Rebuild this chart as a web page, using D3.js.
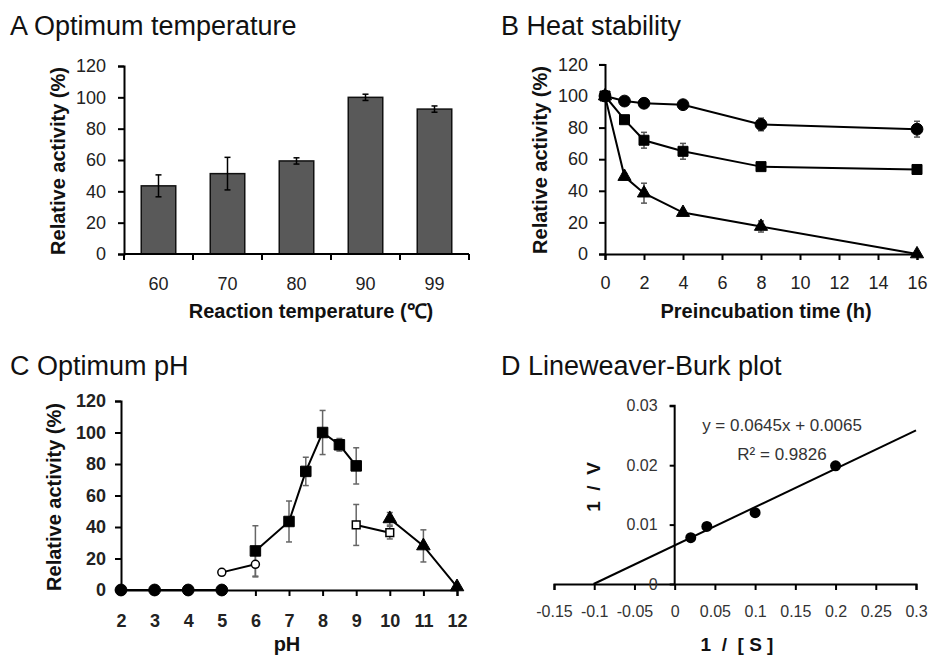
<!DOCTYPE html>
<html><head><meta charset="utf-8">
<script src="https://cdn.jsdelivr.net/npm/d3@7"></script>
<style>
body{margin:0;background:#fff;}
svg{display:block;font-family:"Liberation Sans",Arial,sans-serif;}
</style></head><body>
<svg id="c" width="928" height="657"></svg>
<script>
// ---- Data ----
// Panel A
const tempCats = ["60","70","80","90","99"];
const tempVals = [43.5, 51.3, 59.4, 100, 92.5];
const tempErr  = [7, 10.4, 2, 2, 2];
// Panel B
const timeX = [0,1,2,4,8,16];
const heatCircle = [100, 96.8, 95.4, 94.5, 82, 79];
const heatCircleErr = [3, 2, 2, 2.5, 4, 5];
const heatSquare = [100, 85, 72, 65, 55.3, 53.5];
const heatSquareErr = [3, 1.5, 5, 5, 1.5, 1.5];
const heatTri = [100, 49, 38.5, 26.2, 17.4, 0];
const heatTriErr = [3, 2, 6.3, 1.5, 3.5, 0];
const timeTicks = [0,2,4,6,8,10,12,14,16];
// Panel C
const phFilledCircleX = [2,3,4,5];
const phFilledCircle  = [0,0,0,0];
const phOpenCircleX = [5,6];
const phOpenCircle = [11.2, 16.3];
const phOpenCircleErr = [0, 8];
const phFilledSquareX = [6,7,7.5,8,8.5,9];
const phFilledSquare = [24.8, 43.5, 75.3, 100, 92.2, 78.8];
const phFilledSquareErr = [16, 13, 9, 14, 4, 11.5];
const phOpenSquareX = [9,10];
const phOpenSquare = [41.3, 36.4];
const phOpenSquareErr = [13, 4];
const phTriX = [10,11,12];
const phTri = [45.2, 28, 2];
const phTriErr = [4, 10.2, 0];
const phTicks = [2,3,4,5,6,7,8,9,10,11,12];
// Panel D
const invS = [0.02, 0.04, 0.1, 0.2];
const invV = [0.0078, 0.0097, 0.0120, 0.0199];
const lbSlope = 0.0645, lbIntercept = 0.0065;
const lbLineX = [-0.1008, 0.3];
const dXTicks = [-0.15,-0.1,-0.05,0,0.05,0.1,0.15,0.2,0.25,0.3];
const dYTicks = [0,0.01,0.02,0.03];
const yTicks120 = [0,20,40,60,80,100,120];

const svg = d3.select("#c");
const TXT = "#222";

function styleAxis(g, bold, size){
  g.select(".domain").attr("stroke","#000").attr("stroke-width",2);
  g.selectAll(".tick line").attr("stroke","#000").attr("stroke-width",2);
  g.selectAll(".tick text").attr("fill",TXT).attr("font-size",size)
    .attr("font-weight",bold?"bold":"normal").attr("font-family","Liberation Sans, Arial, sans-serif");
}
function title(x,y,t){
  svg.append("text").attr("x",x).attr("y",y).attr("font-size",27).attr("fill","#111").text(t);
}
function axisTitle(x,y,t,rot,size){
  const e = svg.append("text").attr("text-anchor","middle").attr("font-weight","bold")
    .attr("font-size",size||20).attr("fill","#111").style("white-space","pre").text(t);
  if(rot) e.attr("transform",`translate(${x},${y}) rotate(-90)`); else e.attr("x",x).attr("y",y);
  return e;
}
function errBars(g, xs, ys, es, x, y, color, cap){
  xs.forEach((xv,i)=>{
    if(!es[i]) return;
    const cx = x(xv), y1 = y(ys[i]+es[i]), y2 = y(ys[i]-es[i]);
    g.append("line").attr("x1",cx).attr("x2",cx).attr("y1",y1).attr("y2",y2).attr("stroke",color).attr("stroke-width",1.5);
    [y1,y2].forEach(yy=>g.append("line").attr("x1",cx-cap).attr("x2",cx+cap).attr("y1",yy).attr("y2",yy).attr("stroke",color).attr("stroke-width",1.5));
  });
}
function lineSeries(g, xs, ys, x, y){
  g.append("path").datum(xs.map((v,i)=>[v,ys[i]]))
    .attr("d", d3.line().x(d=>x(d[0])).y(d=>y(d[1])))
    .attr("fill","none").attr("stroke","#000").attr("stroke-width",2);
}
function markers(g, xs, ys, x, y, type, filled, size){
  const sym = {circle:d3.symbolCircle, square:d3.symbolSquare, triangle:d3.symbolTriangle}[type];
  xs.forEach((v,i)=>{
    g.append("path").attr("d", d3.symbol().type(sym).size(size)())
      .attr("transform",`translate(${x(v)},${y(ys[i])})`)
      .attr("fill", filled?"#000":"#fff").attr("stroke","#000").attr("stroke-width",filled?1:1.5);
  });
}

// ===== Panel A =====
{
  title(10,35,"A Optimum temperature");
  const x = d3.scaleBand().domain(tempCats).range([124,469]).paddingInner(0.5).paddingOuter(0.25);
  const y = d3.scaleLinear().domain([0,120]).range([254,66]);
  const g = svg.append("g");
  g.selectAll("rect").data(tempVals).join("rect")
    .attr("x",(d,i)=>x(tempCats[i])).attr("width",x.bandwidth())
    .attr("y",d=>y(d)).attr("height",d=>y(0)-y(d))
    .attr("fill","#595959").attr("stroke","#111").attr("stroke-width",1.5);
  errBars(g, tempCats, tempVals, tempErr, c=>x(c)+x.bandwidth()/2, y, "#000", 3);
  const ya = svg.append("g").attr("transform","translate(124,0)")
    .call(d3.axisLeft(y).tickValues(yTicks120).tickSize(6).tickPadding(12));
  styleAxis(ya,false,18);
  const xa = svg.append("g").attr("transform","translate(0,254)");
  xa.append("line").attr("x1",124).attr("x2",469).attr("stroke","#000").attr("stroke-width",2);
  const bounds = tempCats.map(c=>x(c)-x.step()*0.25).concat([x(tempCats[4])+x.bandwidth()+x.step()*0.25]);
  bounds.forEach(b=>xa.append("line").attr("x1",b).attr("x2",b).attr("y1",0).attr("y2",6).attr("stroke","#000").attr("stroke-width",2));
  tempCats.forEach(c=>xa.append("text").attr("x",x(c)+x.bandwidth()/2).attr("y",36).attr("text-anchor","middle")
    .attr("font-size",18).attr("fill",TXT).text(c));
  axisTitle(311,318,"Reaction temperature (\u2103)",false);
  axisTitle(65,161,"Relative activity (%)",true);
}

// ===== Panel B =====
{
  title(501,35,"B Heat stability");
  const x = d3.scaleLinear().domain([0,16]).range([605,917]);
  const y = d3.scaleLinear().domain([0,120]).range([254,64.4]);
  const g = svg.append("g");
  const ya = svg.append("g").attr("transform","translate(605,0)")
    .call(d3.axisLeft(y).tickValues(yTicks120).tickSize(6).tickPadding(11));
  styleAxis(ya,false,18);
  const xa = svg.append("g").attr("transform","translate(0,254)")
    .call(d3.axisBottom(x).tickValues(timeTicks).tickSize(6).tickPadding(16));
  styleAxis(xa,false,18);
  errBars(g, timeX, heatCircle, heatCircleErr, x, y, "#555", 3);
  errBars(g, timeX, heatSquare, heatSquareErr, x, y, "#555", 3);
  errBars(g, timeX, heatTri, heatTriErr, x, y, "#555", 3);
  lineSeries(g, timeX, heatCircle, x, y);
  lineSeries(g, timeX, heatSquare, x, y);
  lineSeries(g, timeX, heatTri, x, y);
  markers(g, timeX, heatCircle, x, y, "circle", true, 110);
  markers(g, timeX, heatSquare, x, y, "square", true, 100);
  markers(g, timeX, heatTri, x, y, "triangle", true, 75);
  axisTitle(766,318,"Preincubation time (h)",false);
  axisTitle(547,160,"Relative activity (%)",true);
}

// ===== Panel C =====
{
  title(10,375,"C Optimum pH");
  const x = d3.scaleLinear().domain([2,12]).range([121,457]);
  const y = d3.scaleLinear().domain([0,120]).range([590,401]);
  const g = svg.append("g");
  const ya = svg.append("g").attr("transform","translate(121,0)")
    .call(d3.axisLeft(y).tickValues(yTicks120).tickSize(6).tickPadding(9));
  styleAxis(ya,true,18);
  const xa = svg.append("g").attr("transform","translate(0,590)")
    .call(d3.axisBottom(x).tickValues(phTicks).tickSize(6).tickPadding(18));
  styleAxis(xa,true,18);
  errBars(g, phOpenCircleX, phOpenCircle, phOpenCircleErr, x, y, "#666", 3);
  errBars(g, phFilledSquareX, phFilledSquare, phFilledSquareErr, x, y, "#666", 3);
  errBars(g, phOpenSquareX, phOpenSquare, phOpenSquareErr, x, y, "#666", 3);
  errBars(g, phTriX, phTri, phTriErr, x, y, "#666", 3);
  lineSeries(g, phFilledCircleX, phFilledCircle, x, y);
  lineSeries(g, phOpenCircleX, phOpenCircle, x, y);
  lineSeries(g, phFilledSquareX, phFilledSquare, x, y);
  lineSeries(g, phOpenSquareX, phOpenSquare, x, y);
  lineSeries(g, phTriX, phTri, x, y);
  markers(g, phFilledCircleX, phFilledCircle, x, y, "circle", true, 110);
  markers(g, phOpenCircleX, phOpenCircle, x, y, "circle", false, 50);
  markers(g, phFilledSquareX, phFilledSquare, x, y, "square", true, 110);
  markers(g, phOpenSquareX, phOpenSquare, x, y, "square", false, 60);
  markers(g, phTriX, phTri, x, y, "triangle", true, 80);
  axisTitle(287,651,"pH",false);
  axisTitle(61,497,"Relative activity (%)",true);
}

// ===== Panel D =====
{
  title(501,375,"D Lineweaver-Burk plot");
  const x = d3.scaleLinear().domain([-0.15,0.3]).range([554,916]);
  const y = d3.scaleLinear().domain([0,0.03]).range([584,405.8]);
  const g = svg.append("g");
  const xa = svg.append("g").attr("transform","translate(0,584)")
    .call(d3.axisBottom(x).tickValues(dXTicks).tickSize(6).tickPadding(16).tickFormat(d=>String(+d.toFixed(2))));
  styleAxis(xa,false,16);
  xa.selectAll(".tick text").attr("fill","#333");
  const ya = svg.append("g").attr("transform",`translate(${x(0)},0)`)
    .call(d3.axisLeft(y).tickValues(dYTicks).tickSize(5).tickPadding(12).tickFormat(d=>d===0?"0":d3.format(".2f")(d)));
  styleAxis(ya,false,16);
  ya.selectAll(".tick text").attr("fill","#333");
  ya.select(".domain").attr("d",`M0,${y(0)}V${y(0.03)}H-5`);
  g.append("path").datum(lbLineX.map(v=>[v, lbSlope*v+lbIntercept]))
    .attr("d", d3.line().x(d=>x(d[0])).y(d=>y(d[1])))
    .attr("stroke","#000").attr("stroke-width",2).attr("fill","none");
  invS.forEach((v,i)=>g.append("circle").attr("cx",x(v)).attr("cy",y(invV[i])).attr("r",5.5).attr("fill","#000"));
  svg.append("text").attr("x",782).attr("y",431).attr("text-anchor","middle").attr("font-size",17).attr("fill","#333")
    .text(`y = ${lbSlope}x + ${lbIntercept}`);
  svg.append("text").attr("x",782).attr("y",460).attr("text-anchor","middle").attr("font-size",17).attr("fill","#333")
    .text("R\u00B2 = 0.9826");
  axisTitle(737,651,"1  /  [ S ]",false,19);
  axisTitle(600,487,"1  /  V",true,19);
}
</script>
</body></html>
